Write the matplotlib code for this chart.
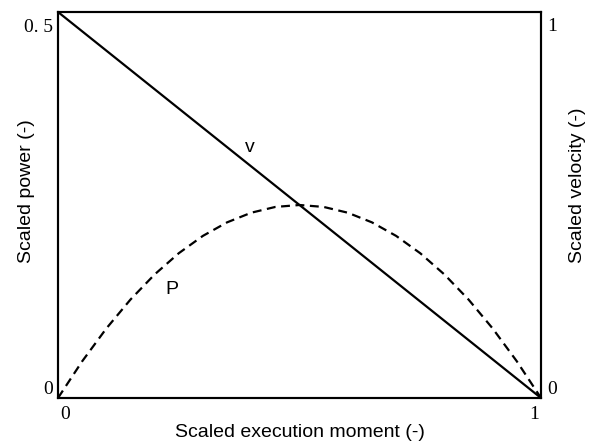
import matplotlib
matplotlib.use("Agg")
import matplotlib.pyplot as plt
from matplotlib.transforms import ScaledTranslation

# Data
moment = [0.0, 0.05, 0.10, 0.15, 0.20, 0.25, 0.30, 0.35, 0.40, 0.45, 0.50,
          0.55, 0.60, 0.65, 0.70, 0.75, 0.80, 0.85, 0.90, 0.95, 1.0]
power = [0.0, 0.0475, 0.09, 0.1275, 0.16, 0.1875, 0.21, 0.2275, 0.24, 0.2475, 0.25,
         0.2475, 0.24, 0.2275, 0.21, 0.1875, 0.16, 0.1275, 0.09, 0.0475, 0.0]
vel_moment = [0.0, 1.0]
velocity = [1.0, 0.0]

x_ticks = [0, 1]
x_tick_labels = ["0", "1"]
p_ticks = [0, 0.5]
p_tick_labels = ["0", "0. 5"]
v_ticks = [0, 1]
v_tick_labels = ["0", "1"]

fig = plt.figure(figsize=(5.89, 4.43), dpi=100)
ax = fig.add_axes([58/589, 1-398/443, (541-58)/589, (398-12)/443])
ax2 = ax.twinx()

ax.plot(moment, power, color="black", lw=1.6, linestyle=(0, (4, 2.5)))
ax2.plot(vel_moment, velocity, color="black", lw=1.6)

ax.set_xlim(0, 1)
ax.set_ylim(0, 0.5)
ax2.set_ylim(0, 1)

serif = "Liberation Serif"
ax.set_xticks(x_ticks)
ax.set_xticklabels(x_tick_labels, family=serif, fontsize=14)
ax.set_yticks(p_ticks)
ax.set_yticklabels(p_tick_labels, family=serif, fontsize=14)
ax2.set_yticks(v_ticks)
ax2.set_yticklabels(v_tick_labels, family=serif, fontsize=14)

for a in (ax, ax2):
    a.tick_params(length=0)
    for s in a.spines.values():
        s.set_linewidth(1.5)
ax.tick_params(axis="x", pad=6)
ax.tick_params(axis="y", pad=3.5)
ax2.tick_params(axis="y", pad=4.5)

def shift(lbl, dx_px, dy_px):
    lbl.set_transform(lbl.get_transform() +
                      ScaledTranslation(dx_px / 100, dy_px / 100, fig.dpi_scale_trans))

xl = ax.get_xticklabels()
xl[0].set_ha("left")
shift(xl[0], 2, 0)
xl[1].set_ha("right")
shift(xl[1], -2, 0)
yl = ax.get_yticklabels()
yl[0].set_va("bottom")
yl[1].set_va("top")
shift(yl[1], 0, -7)
yr = ax2.get_yticklabels()
yr[0].set_va("bottom")
yr[1].set_va("top")
shift(yr[1], 0, -6)

sans = "Liberation Sans"
ax.set_xlabel("Scaled execution moment (-)", family=sans, fontsize=14)
ax.set_ylabel("Scaled power (-)", family=sans, fontsize=14)
ax2.set_ylabel("Scaled velocity (-)", family=sans, fontsize=14, rotation=90)
ax.xaxis.set_label_coords(0.5, -0.068)
ax.yaxis.set_label_coords(-0.047, 0.535)
ax2.yaxis.set_label_coords(1.0576, 0.552)

ax.text(0.397, 0.65, "v", transform=ax.transAxes, family=sans, fontsize=14,
        ha="center", va="center")
ax.text(0.236, 0.28, "P", transform=ax.transAxes, family=sans, fontsize=14,
        ha="center", va="center")

fig.savefig("out.png", dpi=100)
